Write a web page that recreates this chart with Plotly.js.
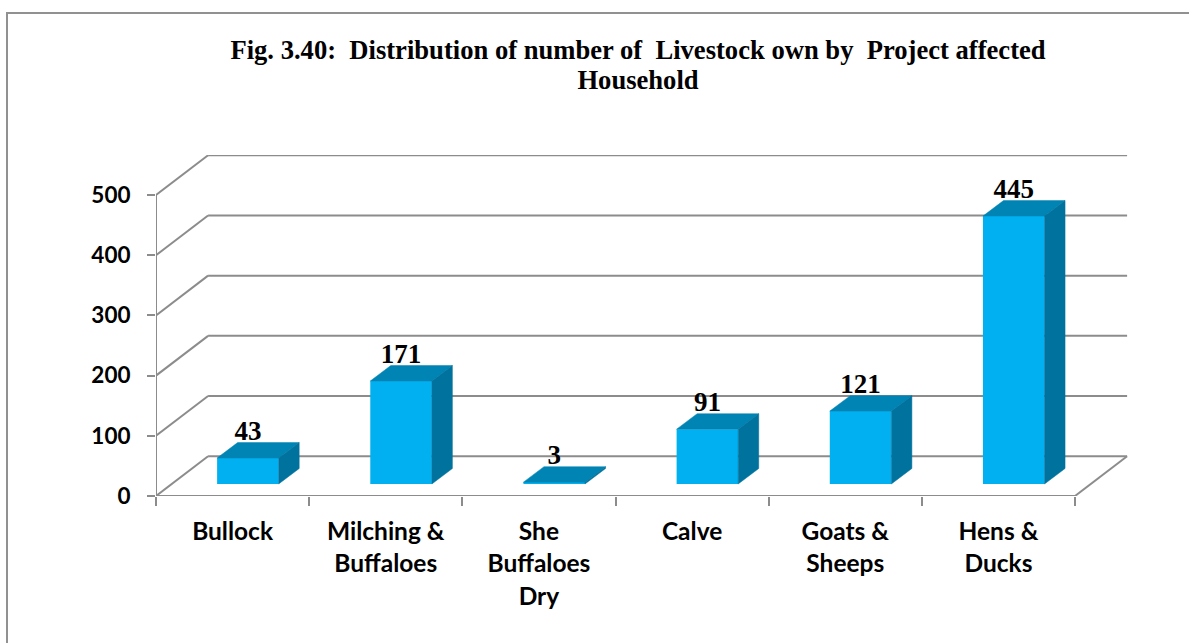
<!DOCTYPE html>
<html>
<head>
<meta charset="utf-8">
<script src="https://cdn.plot.ly/plotly-3.0.1.min.js"></script>
<style>
html,body{margin:0;padding:0;background:#fff;overflow:hidden}
#frame{position:absolute;left:6px;top:12px;right:0;bottom:0;border-left:2.5px solid #919191;border-top:2.5px solid #919191;pointer-events:none}
</style>
</head>
<body>
<div id="chart" style="width:1189px;height:643px"></div>
<div id="frame"></div>
<script>
const categories = ["Bullock", "Milching &<br>Buffaloes", "She<br>Buffaloes<br>Dry", "Calve", "Goats &<br>Sheeps", "Hens &<br>Ducks"];
const livestock = [43, 171, 3, 91, 121, 445];
const valueTicks = [0, 100, 200, 300, 400, 500];
const chartTitle = "Fig. 3.40:&nbsp; Distribution of number of&nbsp; Livestock own by&nbsp; Project affected<br>Household";

const FRONT = "#00B0F0", TOP = "#0084B4", SIDE = "#00729E", GRID = "#8C8C8C";
const barOffset = 0.6, barWidth = 0.402;
const floorBase = 20;              // bars stand a little inside the floor
const barDX = 0.134, barDY = 25.7; // bar depth in axis units
const wallDX = 0.34, wallDY = 66;  // wall depth in axis units
const nCat = categories.length;
const catIdx = categories.map((_, i) => i + barOffset);

// wall grid and floor
const shapes = [];
function seg(x0, y0, x1, y1) {
  shapes.push({type: "line", xref: "x", yref: "y", x0, y0, x1, y1, layer: "below",
    line: {color: GRID, width: 2}});
}
valueTicks.forEach(v => {
  seg(0, v, wallDX, v + wallDY);
  seg(wallDX, v + wallDY, nCat + wallDX, v + wallDY);
});
seg(nCat, 0, nCat + wallDX, wallDY);

const traces = [{
  type: "bar", x: catIdx, y: livestock, base: livestock.map(() => floorBase), width: barWidth,
  marker: {color: FRONT, line: {width: 0}}, showlegend: false, hoverinfo: "y"
}];

livestock.forEach((v, i) => {
  const l = catIdx[i] - barWidth / 2, r = catIdx[i] + barWidth / 2;
  const b = floorBase, t = floorBase + v;
  traces.push({type: "scatter", mode: "lines", fill: "toself", fillcolor: TOP,
    line: {color: TOP, width: 0.5}, hoverinfo: "skip", showlegend: false,
    x: [l, r, r + barDX, l + barDX, l], y: [t, t, t + barDY, t + barDY, t]});
  traces.push({type: "scatter", mode: "lines", fill: "toself", fillcolor: SIDE,
    line: {color: SIDE, width: 0.5}, hoverinfo: "skip", showlegend: false,
    x: [r, r + barDX, r + barDX, r, r], y: [b, b + barDY, t + barDY, t, b]});
});

// front axis lines sit on the plot edge, so they must not be clipped
traces.push({type: "scatter", mode: "lines", cliponaxis: false, hoverinfo: "skip", showlegend: false,
  line: {color: GRID, width: 2}, x: [0, 0, nCat], y: [valueTicks[valueTicks.length - 1], 0, 0]});

traces.push({
  type: "scatter", mode: "text", x: catIdx, y: livestock.map(v => v + floorBase + 41),
  text: livestock.map(String), textposition: "middle center",
  textfont: {family: "Liberation Serif", size: 27, color: "#000", weight: 700},
  hoverinfo: "skip", showlegend: false, cliponaxis: false
});

const layout = {
  width: 1189, height: 643,
  margin: {l: 156, r: 61, t: 155, b: 147, pad: 0},
  paper_bgcolor: "#fff", plot_bgcolor: "rgba(0,0,0,0)",
  showlegend: false, shapes,
  title: {text: chartTitle, x: 0.5366, xanchor: "center", y: 0.909, yanchor: "top", yref: "container",
    font: {family: "Liberation Serif", size: 26.6, color: "#000", weight: 700}},
  xaxis: {
    range: [0, 972 / 153.17], showgrid: false, zeroline: false, showline: false,
    tickmode: "array", tickvals: categories.map((_, i) => i + 0.5), ticktext: categories,
    ticks: "", ticklen: 0, tickangle: 0, ticklabelstandoff: 18,
    tickfont: {family: "Lato", size: 24.5, color: "#000", weight: 700},
    minor: {tickmode: "array", tickvals: Array.from({length: nCat + 1}, (_, i) => i),
      ticks: "outside", ticklen: 9, tickwidth: 2, tickcolor: GRID, showgrid: false}
  },
  yaxis: {
    range: [0, 341 / 0.602], showgrid: false, zeroline: false, showline: false,
    tickmode: "array", tickvals: valueTicks,
    ticks: "outside", ticklen: 8, tickwidth: 2, tickcolor: GRID, ticklabelstandoff: 12,
    tickfont: {family: "Lato", size: 22.5, color: "#000", weight: 700}
  }
};

const gd = document.getElementById("chart");
function spaceLabels() {
  gd.querySelectorAll(".xtick text").forEach(t => {
    t.querySelectorAll("tspan.line").forEach((s, i) => s.setAttribute("dy", (i * 32.5) + "px"));
  });
  gd.querySelectorAll(".gtitle").forEach(t => {
    t.querySelectorAll("tspan.line").forEach((s, i) => s.setAttribute("dy", (i * 30) + "px"));
  });
}
Plotly.newPlot(gd, traces, layout, {displayModeBar: false}).then(() => {
  spaceLabels();
  gd.on("plotly_afterplot", spaceLabels);
});
</script>
</body>
</html>
